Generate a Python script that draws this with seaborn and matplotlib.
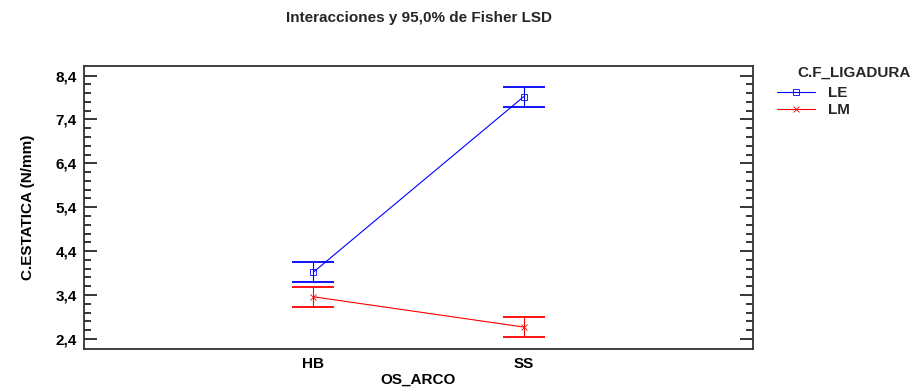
import pandas as pd
import matplotlib
matplotlib.use("Agg")
import matplotlib.pyplot as plt
import seaborn as sns
from matplotlib.ticker import FixedLocator, FuncFormatter

# Data
arco = ["HB", "SS"]
ligadura = ["LE", "LM"]
le_means = [3.92, 7.92]
lm_means = [3.36, 2.67]
lsd_half = [0.23, 0.23]  # half width of the 95% Fisher LSD intervals
y_ticks = [2.4, 3.4, 4.4, 5.4, 6.4, 7.4, 8.4]

df = pd.DataFrame({
    "OS_ARCO": arco * 2,
    "C.F_LIGADURA": ["LE"] * 2 + ["LM"] * 2,
    "C.ESTATICA (N/mm)": le_means + lm_means,
})

colors = {"LE": "#0000ff", "LM": "#ff0000"}

sns.set_style("white")
plt.rcParams["font.family"] = ["Liberation Sans", "DejaVu Sans"]
plt.rcParams["font.weight"] = "bold"
fs = 11

fig = plt.figure(figsize=(9.14, 3.92), dpi=100)
ax = fig.add_axes([0.0919, 0.1097, 0.8239 - 0.0919, 0.8329 - 0.1097])

sns.pointplot(data=df, x="OS_ARCO", y="C.ESTATICA (N/mm)", hue="C.F_LIGADURA",
              hue_order=ligadura, order=arco, palette=colors, markers=["s", "x"],
              errorbar=None, linewidth=0.8, markersize=4, ax=ax)

# LSD intervals
for name, means in zip(ligadura, [le_means, lm_means]):
    ax.errorbar(range(len(arco)), means, yerr=lsd_half, fmt="none",
                ecolor=colors[name], elinewidth=0.8, capsize=14.8, capthick=1.3)

for line in ax.lines:
    if line.get_marker() == "s":
        line.set_markerfacecolor("none")

ax.set_xlim(-1.09, 2.09)
ax.set_ylim(2.17, 8.63)
ax.set_yticks(y_ticks)
ax.yaxis.set_minor_locator(FixedLocator([2.4 + 0.2 * i for i in range(31)]))
ax.yaxis.set_major_formatter(FuncFormatter(lambda v, p: f"{v:.1f}".replace(".", ",")))

ax.tick_params(axis="y", which="major", direction="in", length=9.5, width=1.3,
               left=True, right=True, labelsize=fs, pad=5, labelcolor="black")
ax.tick_params(axis="y", which="minor", direction="in", length=5, width=1.3,
               left=True, right=True)
ax.tick_params(axis="x", bottom=False, length=0, labelsize=fs, pad=6,
               labelcolor="black")
for s in ax.spines.values():
    s.set_visible(True)
    s.set_color("#333333")
    s.set_linewidth(1.3)

ax.set_xlabel("OS_ARCO", fontsize=fs, fontweight="bold", labelpad=1, color="black")
ax.set_ylabel("C.ESTATICA (N/mm)", fontsize=fs, fontweight="bold", labelpad=15,
              color="black")

fig.text(0.4579, 0.955, "Interacciones y 95,0% de Fisher LSD", ha="center",
         va="center", fontsize=fs, fontweight="bold")

handles, labels = ax.get_legend_handles_labels()
ax.legend(handles, labels, loc="upper left", bbox_to_anchor=(0.850, 0.781),
          bbox_transform=fig.transFigure, frameon=False, fontsize=fs,
          handlelength=2.5, handletextpad=0.85, labelspacing=0.22,
          borderaxespad=0, borderpad=0)
fig.text(0.872, 0.814, "C.F_LIGADURA", ha="left", va="center", fontsize=fs,
         fontweight="bold")

fig.savefig("out.png", dpi=100)
